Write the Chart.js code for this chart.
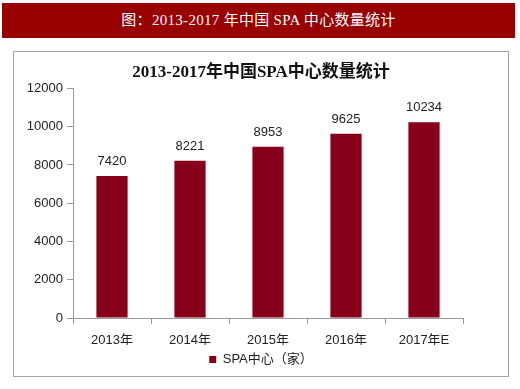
<!DOCTYPE html>
<html><head><meta charset="utf-8">
<script src="https://cdn.jsdelivr.net/npm/chart.js@4"></script>
<style>
body{margin:0;background:#fff;width:520px;height:389px;position:relative;overflow:hidden}
#hdr{position:absolute;left:2px;top:3px;width:513px;height:35px;background:#990000;color:#fff;
font:15px "Liberation Serif","Noto Sans CJK SC",serif;line-height:35px;text-align:center;letter-spacing:0.3px}
#box{position:absolute;left:13px;top:51px;width:494px;height:324px;border:1px solid #a6a6a6}
#c{position:absolute;left:0;top:0}
</style></head><body>
<div id="hdr">图：2013-2017 年中国 SPA 中心数量统计</div>
<div id="box"><canvas id="c" width="494" height="324"></canvas></div>
<script>
const categories = ["2013年","2014年","2015年","2016年","2017年E"];
const values = [7420, 8221, 8953, 9625, 10234];
const seriesName = "SPA中心（家）";
const yTicks = [0,2000,4000,6000,8000,10000,12000];

const FONT = '"Liberation Sans","Noto Sans CJK SC",sans-serif';
const barColor = '#86001a';

const labelPlugin = {
  id:'labels',
  afterDatasetsDraw(chart){
    const ctx = chart.ctx;
    const meta = chart.getDatasetMeta(0);
    ctx.save();
    ctx.font = '13px ' + FONT;
    ctx.fillStyle = '#222';
    ctx.textAlign = 'center';
    ctx.textBaseline = 'bottom';
    meta.data.forEach((el,i)=>{
      ctx.fillText(String(values[i]), el.x, el.y - 8);
    });
    ctx.restore();
  }
};

new Chart(document.getElementById('c'), {
  type:'bar',
  data:{labels:categories, datasets:[{label:seriesName, data:values, backgroundColor:barColor,
    categoryPercentage:1, barPercentage:0.4}]},
  options:{
    responsive:false, animation:false,
    layout:{padding:{left:0,right:0,top:0,bottom:0}},
    plugins:{
      title:{display:true, text:'2013-2017年中国SPA中心数量统计', color:'#111',
        font:{family:'"Liberation Serif","Noto Sans CJK SC",serif', size:17, weight:'bold'},
        padding:{top:10,bottom:6}},
      legend:{position:'bottom', labels:{boxWidth:7, boxHeight:7, color:'#222',
        font:{family:FONT,size:13}, padding:8}},
      tooltip:{enabled:false}
    },
    scales:{
      x:{grid:{display:true, offset:true, drawOnChartArea:false, tickLength:6, color:'#999'},
        border:{color:'#999'},
        afterFit(s){ s.height = 27; },
        ticks:{color:'#222', font:{family:FONT,size:13}, padding:9}},
      y:{min:0, max:12000,
        afterBuildTicks(s){ s.ticks = yTicks.map(v=>({value:v})); },
        afterFit(s){ s.width = 59; },
        grid:{display:true, drawOnChartArea:false, tickLength:6, color:'#999'},
        border:{color:'#999'},
        ticks:{color:'#222', font:{family:FONT,size:13}, padding:4, callback:v=>String(v)}},
      yRight:{position:'right', min:0, max:12000, display:true,
        afterFit(s){ s.width = 45; },
        grid:{display:false}, border:{display:false}, ticks:{display:false}}
    }
  },
  plugins:[labelPlugin]
});
</script>
</body></html>
